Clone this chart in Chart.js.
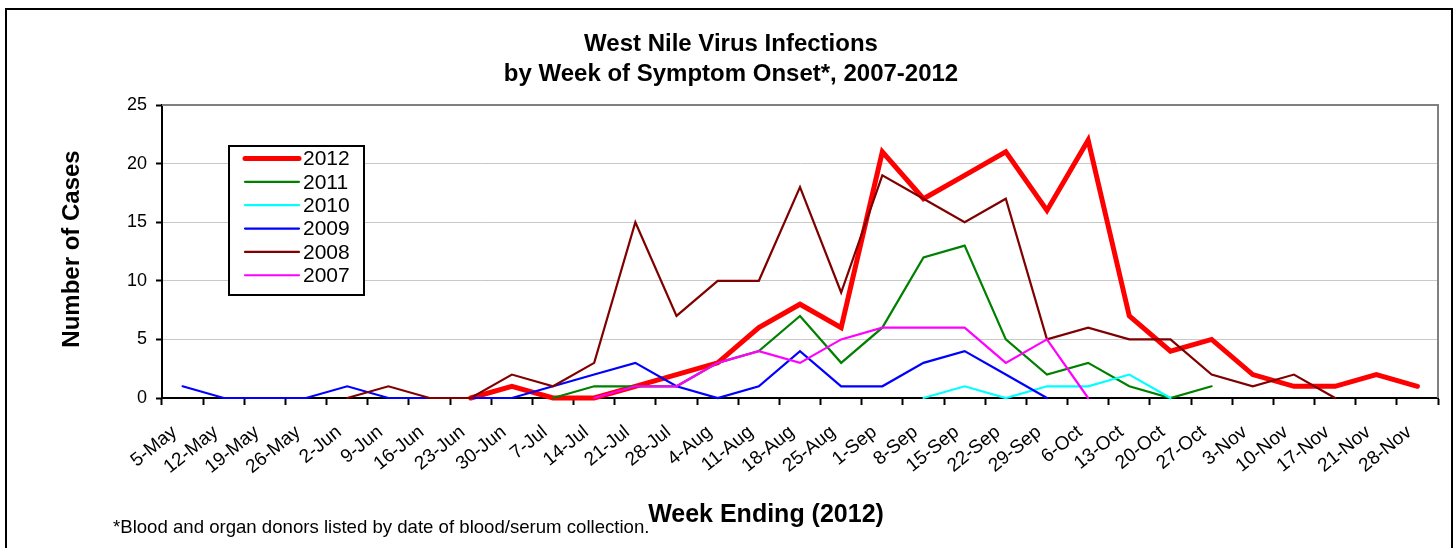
<!DOCTYPE html>
<html lang="en">
<head>
    <meta charset="UTF-8">
    <title>West Nile Virus Infections by Week of Symptom Onset, 2007-2012</title>
    <script src="https://cdn.jsdelivr.net/npm/chart.js@4.4.1/dist/chart.umd.min.js"></script>
    <style>
        body {
            margin: 0;
            background: #fff;
        }
        .chart-box {
            position: relative;
            width: 1454px;
            height: 548px;
        }
    </style>
</head>
<body>
    <div class="chart-box">
        <canvas id="wnvChart"></canvas>
    </div>

    <script>
        // --- Data ---
        const weeks = ['5-May', '12-May', '19-May', '26-May', '2-Jun', '9-Jun', '16-Jun', '23-Jun', '30-Jun',
            '7-Jul', '14-Jul', '21-Jul', '28-Jul', '4-Aug', '11-Aug', '18-Aug', '25-Aug', '1-Sep', '8-Sep',
            '15-Sep', '22-Sep', '29-Sep', '6-Oct', '13-Oct', '20-Oct', '27-Oct', '3-Nov', '10-Nov', '17-Nov',
            '21-Nov', '28-Nov'];

        const _ = null;
        const cases2012 = [_, _, _, _, _, _, _, 0, 1, 0, 0, 1, 2, 3, 6, 8, 6, 21, 17, 19, 21, 16, 22, 7, 4, 5, 2, 1, 1, 2, 1];
        const cases2011 = [_, _, _, _, _, _, _, _, _, 0, 1, 1, 1, 3, 4, 7, 3, 6, 12, 13, 5, 2, 3, 1, 0, 1, _, _, _, _, _];
        const cases2010 = [_, _, _, _, _, _, _, _, _, _, _, _, _, _, _, _, _, _, 0, 1, 0, 1, 1, 2, 0, _, _, _, _, _, _];
        const cases2009 = [1, 0, 0, 0, 1, 0, 0, 0, 0, 1, 2, 3, 1, 0, 1, 4, 1, 1, 3, 4, 2, 0, _, _, _, _, _, _, _, _, _];
        const cases2008 = [_, _, _, _, 0, 1, 0, 0, 2, 1, 3, 15, 7, 10, 10, 18, 9, 19, 17, 15, 17, 5, 6, 5, 5, 2, 1, 2, 0, _, _];
        const cases2007 = [_, _, _, _, _, _, _, _, _, _, 0, 1, 1, 3, 4, 3, 5, 6, 6, 6, 3, 5, 0, _, _, _, _, _, _, _, _];

        const yTicks = [0, 5, 10, 15, 20, 25];

        const FONT = "'Liberation Sans', Arial, sans-serif";

        // one entry per season, legend order
        const series = [
            { label: '2012', data: cases2012, color: '#FF0000', width: 5 },
            { label: '2011', data: cases2011, color: '#008000', width: 2.2 },
            { label: '2010', data: cases2010, color: '#00FFFF', width: 2.2 },
            { label: '2009', data: cases2009, color: '#0000FF', width: 2.2 },
            { label: '2008', data: cases2008, color: '#800000', width: 2.2 },
            { label: '2007', data: cases2007, color: '#FF00FF', width: 2.2 }
        ];

        // --- Extra drawing: frame, titles, footnote, inset legend ---
        const decorPlugin = {
            id: 'decor',
            beforeDraw(chart) {
                const c = chart.ctx;
                c.save();
                c.fillStyle = '#fff';
                c.fillRect(0, 0, chart.width, chart.height);
                c.strokeStyle = '#000';
                c.lineWidth = 2;
                c.strokeRect(6, 9, 1446, 600);
                c.restore();
            },
            afterDatasetsDraw(chart) {
                const c = chart.ctx;
                const a = chart.chartArea;
                c.save();
                // plot border on top / right
                c.strokeStyle = '#808080';
                c.lineWidth = 2;
                c.beginPath();
                c.moveTo(a.left, a.top);
                c.lineTo(a.right, a.top);
                c.lineTo(a.right, a.bottom);
                c.stroke();

                // legend box
                const lx = 229, ly = 146, lw = 135, lh = 149, row = 23.35;
                c.fillStyle = '#fff';
                c.fillRect(lx, ly, lw, lh);
                c.strokeStyle = '#000';
                c.lineWidth = 2;
                c.strokeRect(lx, ly, lw, lh);
                c.font = '21px ' + FONT;
                c.textBaseline = 'middle';
                c.textAlign = 'left';
                chart.data.datasets.forEach((ds, i) => {
                    const y = 158.5 + i * row;
                    c.strokeStyle = ds.borderColor;
                    c.lineWidth = ds.borderWidth;
                    c.lineCap = 'round';
                    c.beginPath();
                    c.moveTo(245, y);
                    c.lineTo(299, y);
                    c.stroke();
                    c.fillStyle = '#000';
                    c.fillText(ds.label, 303, y + 1);
                });

                // titles
                c.fillStyle = '#000';
                c.textAlign = 'center';
                c.font = 'bold 24px ' + FONT;
                c.fillText('West Nile Virus Infections', 731, 44);
                c.fillText('by Week of Symptom Onset*, 2007-2012', 731, 74);

                c.save();
                c.translate(72, 249);
                c.rotate(-Math.PI / 2);
                c.fillText('Number of Cases', 0, 0);
                c.restore();

                c.font = 'bold 25px ' + FONT;
                c.fillText('Week Ending (2012)', 766, 515);

                c.textAlign = 'left';
                c.font = '18.6px ' + FONT;
                c.fillText('*Blood and organ donors listed by date of blood/serum collection.', 113, 528);
                c.restore();
            }
        };

        const ctx = document.getElementById('wnvChart').getContext('2d');
        new Chart(ctx, {
            type: 'line',
            data: {
                labels: weeks,
                datasets: series.map((s, i) => ({
                    label: s.label,
                    data: s.data,
                    borderColor: s.color,
                    backgroundColor: s.color,
                    borderWidth: s.width,
                    borderCapStyle: 'round',
                    pointRadius: 0,
                    tension: 0,
                    spanGaps: false,
                    clip: false,
                    order: series.length - i   // later seasons drawn on top, like the original
                }))
            },
            options: {
                responsive: true,
                maintainAspectRatio: false,
                animation: false,
                layout: { padding: { top: 105, right: 16, left: 0, bottom: 0 } },
                scales: {
                    x: {
                        offset: true,
                        border: { color: '#000', width: 2 },
                        grid: { offset: true, drawOnChartArea: false, tickLength: 7, tickColor: '#000', tickWidth: 2 },
                        ticks: {
                            autoSkip: false,
                            minRotation: 39,
                            maxRotation: 39,
                            padding: 16,
                            labelOffset: -8,
                            color: '#000',
                            font: { size: 19, family: FONT }
                        },
                        afterFit: scale => { scale.height = 150; }
                    },
                    y: {
                        min: 0,
                        max: 25,
                        border: { color: '#000', width: 2 },
                        grid: {
                            color: ctx => ctx.tick && ctx.tick.value === 25 ? 'rgba(0,0,0,0)' : '#c8c8c8',
                            lineWidth: 1,
                            tickLength: 6,
                            tickColor: '#000',
                            tickWidth: 2
                        },
                        afterBuildTicks: scale => { scale.ticks = yTicks.map(v => ({ value: v })); },
                        ticks: {
                            padding: 9,
                            color: '#000',
                            font: { size: 18, family: FONT }
                        },
                        afterFit: scale => { scale.width = 162; }
                    }
                },
                plugins: {
                    legend: { display: false },
                    title: { display: false },
                    tooltip: { enabled: false }
                }
            },
            plugins: [decorPlugin]
        });
    </script>
</body>
</html>
